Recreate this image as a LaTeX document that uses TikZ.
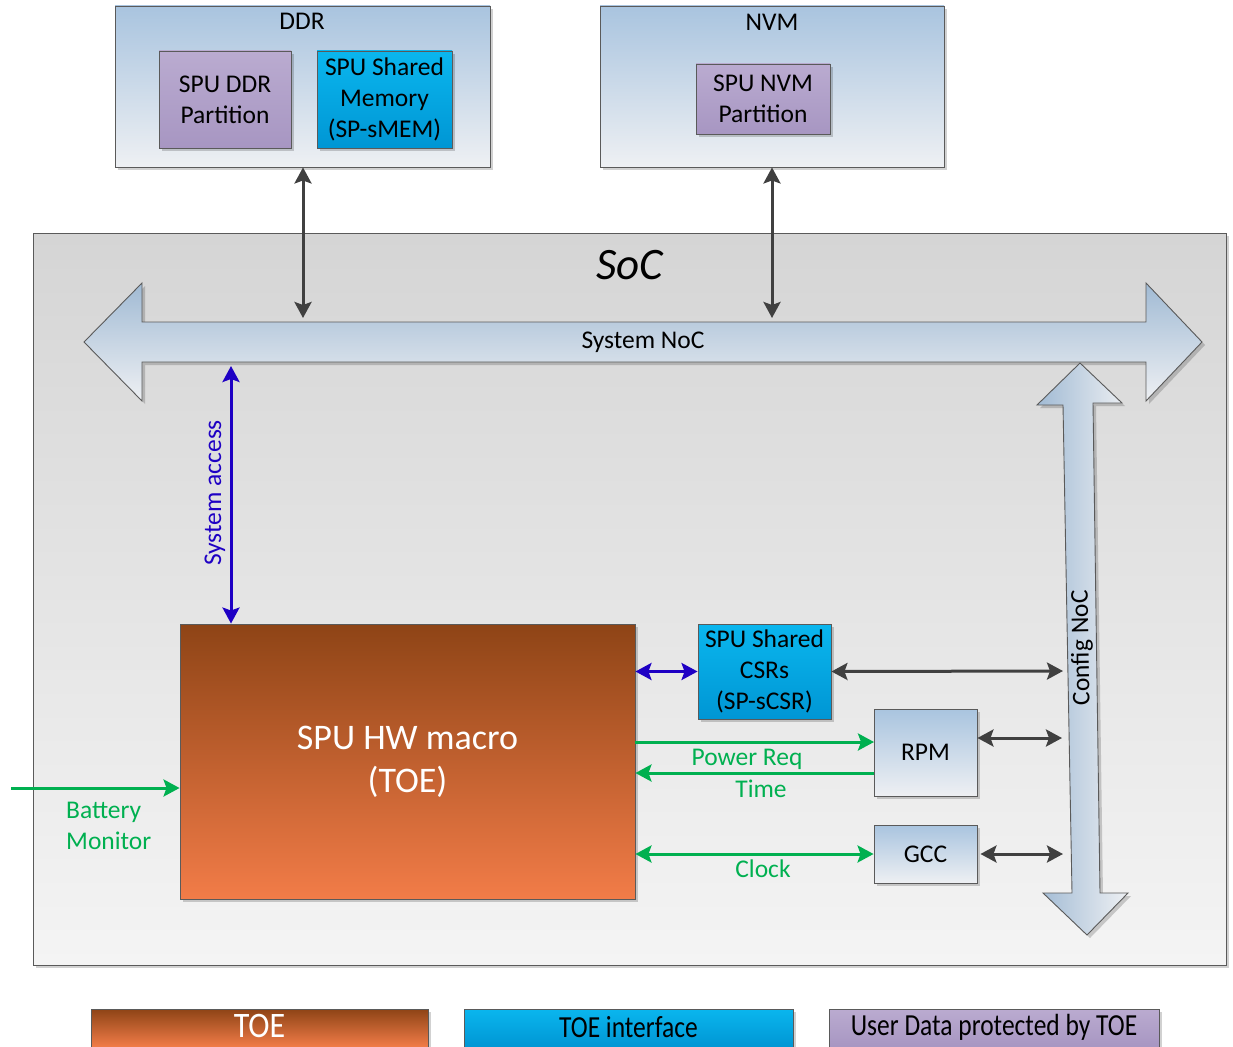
\documentclass[tikz,border=0pt]{standalone}
\usepackage{fontspec}
\setmainfont{Carlito}
\usetikzlibrary{arrows.meta,shadows}
\definecolor{purpT}{HTML}{BAABD0}
\definecolor{purpB}{HTML}{A796C2}
\definecolor{cyanT}{HTML}{0AB6EE}
\definecolor{cyanB}{HTML}{0096D4}
\definecolor{toeT}{HTML}{8E4416}
\definecolor{toeB}{HTML}{F27C48}
\definecolor{lbT}{HTML}{A9C4DF}
\definecolor{lbB}{HTML}{EEF0F3}
\definecolor{socT}{HTML}{D5D5D5}
\definecolor{socB}{HTML}{F4F4F4}
\definecolor{arrD}{HTML}{404040}
\definecolor{arrG}{HTML}{00B050}
\definecolor{arrB}{HTML}{1E00C4}
\definecolor{edgeC}{HTML}{5A5A5A}
\begin{document}
\begin{tikzpicture}[x=1pt,y=-1pt,
  >={Stealth[length=16pt,width=17pt,inset=3pt]},
  shadowed/.style={drop shadow={shadow xshift=3pt,shadow yshift=-3pt,opacity=0.18,fill=black}},
  bodyfont/.style={font=\fontsize{25.5}{31}\selectfont},
  box/.style={draw=edgeC,line width=0.9pt,inner sep=0pt,align=center,bodyfont,shadowed},
  purplebox/.style={box,top color=purpT,bottom color=purpB},
  cyanbox/.style={box,top color=cyanT,bottom color=cyanB},
  lightbox/.style={box,top color=lbT,bottom color=lbB},
  toebox/.style={box,top color=toeT,bottom color=toeB,text=white},
  lbl/.style={inner sep=0pt,bodyfont},
  darr/.style={<->,draw=arrD,line width=3pt},
  garr/.style={draw=arrG,line width=3pt},
  barr/.style={<->,draw=arrB,line width=3pt},
  bignoc/.style={draw=edgeC,line width=0.9pt,shadowed},
  legendtxt/.style={inner sep=0pt,font=\fontsize{25.5}{31}\selectfont}
]
\useasboundingbox (0,0) rectangle (1233,1046);

% SoC background
\node[draw=edgeC,line width=0.9pt,top color=socT,bottom color=socB,shadowed,
      minimum width=1193pt,minimum height=732pt,inner sep=0pt] (soc) at (629.5,599) {};
\node[inner sep=0pt,font=\fontsize{45}{50}\selectfont\itshape] (soclbl) at (630,265) {SoC};

% System NoC (horizontal double arrow)
\path[bignoc,top color=lbT!95!black,bottom color=lbB]
  (84,342) -- (142,283) -- (142,322) -- (1146,322) -- (1146,283) -- (1202,342)
  -- (1146,401) -- (1146,362) -- (142,362) -- (142,401) -- cycle;
\node[lbl] (sysnoc) at (643,342) {System NoC};
\coordinate (ddrport) at (303,318);
\coordinate (nvmport) at (772,318);
\coordinate (sysport) at (231,366);

% Config NoC (vertical double arrow)
\path[bignoc,left color=lbT!95!black,right color=lbB]
  (1080,363) -- (1122,403) -- (1093,403) -- (1100,893) -- (1128,893) -- (1087,935)
  -- (1043,893) -- (1072,893) -- (1063,405) -- (1037,405) -- cycle;
\node[lbl,rotate=91] (cfgnoc) at (1082,648) {Config NoC};
\coordinate (cfgA) at (1063,671);
\coordinate (cfgB) at (1062,738);
\coordinate (cfgC) at (1063,854);

% DDR
\node[lightbox,minimum width=375pt,minimum height=161pt] (ddr) at (302.5,86.5) {};
\node[lbl] (ddrlbl) at (302,21) {DDR};
\node[purplebox,minimum width=132pt,minimum height=97pt] (ddrpart) at (225,99.5) {SPU DDR\\Partition};
\node[cyanbox,minimum width=135pt,minimum height=97pt] (smem) at (384.5,99.5) {SPU Shared\\Memory\\(SP-sMEM)};

% NVM
\node[lightbox,minimum width=344pt,minimum height=161pt] (nvm) at (772,86.5) {};
\node[lbl] (nvmlbl) at (772,22) {NVM};
\node[purplebox,minimum width=134pt,minimum height=70pt] (nvmpart) at (763,99) {SPU NVM\\Partition};

% SPU HW macro
\node[toebox,minimum width=455pt,minimum height=275pt,font=\fontsize{36}{43}\selectfont] (hw) at (407.5,761.5) {SPU HW macro\\(TOE)};
\node[cyanbox,minimum width=133pt,minimum height=95pt] (csr) at (764.5,671.5) {SPU Shared\\CSRs\\(SP-sCSR)};
\node[lightbox,minimum width=103pt,minimum height=87pt] (rpm) at (925.5,752.5) {RPM};
\node[lightbox,minimum width=103pt,minimum height=58pt] (gcc) at (925.5,854) {GCC};
\coordinate (rpmA) at (874,742);
\coordinate (rpmB) at (874,773);
\coordinate (batt) at (11,788);

% connectors
\draw[darr] (ddr.south -| ddrport) -- (ddrport);
\draw[darr] (nvm.south) -- (nvmport);
\draw[barr] (sysport) -- (sysport |- hw.north);
\draw[barr] (csr.west -| hw.east) -- (csr.west);
\draw[darr] (csr.east) -- (cfgA);
\draw[darr] (rpm.east |- cfgB) -- (cfgB);
\draw[darr] ([xshift=3pt]gcc.east) -- (cfgC);
\draw[garr,->] (hw.east |- rpmA) -- (rpmA);
\draw[garr,->] (rpmB) -- (hw.east |- rpmB);
\draw[garr,<->] (hw.east |- gcc.west) -- (gcc.west);
\draw[garr,->] (batt) -- (batt -| hw.west);

% labels
\node[lbl,text=arrB,rotate=90] (sysacc) at (215,493) {System access};
\node[lbl,text=arrG] (preq) at (747,759) {Power Req};
\node[lbl,text=arrG] (time) at (761,789) {Time};
\node[lbl,text=arrG] (clock) at (763,869) {Clock};
\node[lbl,text=arrG,align=left,anchor=west] (battlbl) at (66,826) {Battery\\Monitor};

% legend
\node[toebox,minimum width=337pt,minimum height=38pt] (lgtoe) at (259.5,1028) {};
\node[legendtxt,text=white] (lgtoet) at (259.5,1026) {\fontsize{32}{32}\selectfont\scalebox{1}[1.12]{TOE}};
\node[cyanbox,minimum width=329pt,minimum height=38pt] (lgif) at (628.5,1028) {};
\node[legendtxt] (lgift) at (628.5,1027) {\scalebox{1}[1.2]{TOE interface}};
\node[purplebox,minimum width=330pt,minimum height=38pt] (lgud) at (994,1028) {};
\node[legendtxt] (lgudt) at (994,1027) {\scalebox{1}[1.2]{User Data protected by TOE}};
\end{tikzpicture}
\end{document}
